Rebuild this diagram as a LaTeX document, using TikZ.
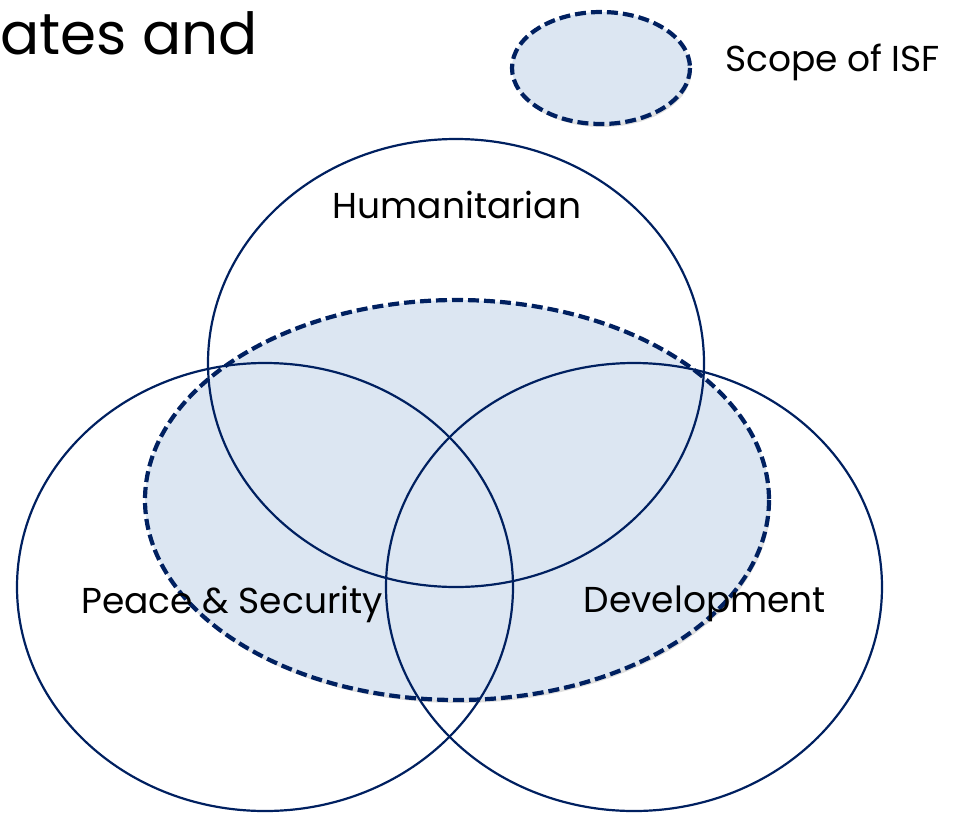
\documentclass[tikz,border=0pt]{standalone}
\usepackage{fontspec}
\setmainfont{Poppins}
\usetikzlibrary{shadows}

\definecolor{isfnavy}{RGB}{0,32,96}
\definecolor{isffill}{RGB}{220,230,242}

\tikzset{
  mandate/.style = {draw = isfnavy, line width = 2.2pt},
  scopeisf/.style = {draw = isfnavy, fill = isffill, line width = 4.2pt, dash pattern = on 11pt off 5pt,
    drop shadow = {shadow xshift = 1.5pt, shadow yshift = -3pt, opacity = 0.25}},
  label/.style = {font = \fontsize{36}{42}\selectfont, text = black, inner sep = 0pt}
}

\begin{document}
\begin{tikzpicture}[x = 1pt, y = -1pt]

\useasboundingbox (0, 0) rectangle (959, 812);

% Title (cut off)
  \node[anchor = west, inner sep = 0pt, font = \fontsize{58}{68}\selectfont] (title) at (0, 33) {ates and};

% Legend
  \path[scopeisf] (601, 68) ellipse [x radius = 89, y radius = 56];
  \node[label, anchor = west] (legend) at (725, 62) {Scope of ISF};

% Scope of ISF
  \path[scopeisf] (457, 500) ellipse [x radius = 312, y radius = 200];

% Mandates
  \draw[mandate] (456, 363) ellipse [x radius = 248, y radius = 224];
  \draw[mandate] (265, 587) ellipse [x radius = 248, y radius = 224];
  \draw[mandate] (634, 587) ellipse [x radius = 248, y radius = 224];

  \node[label] (hum) at (457, 205) {Humanitarian};
  \node[label] (peace) at (232, 604) {Peace \& Security};
  \node[label] (dev) at (705, 604) {Development};

\end{tikzpicture}
\end{document}
